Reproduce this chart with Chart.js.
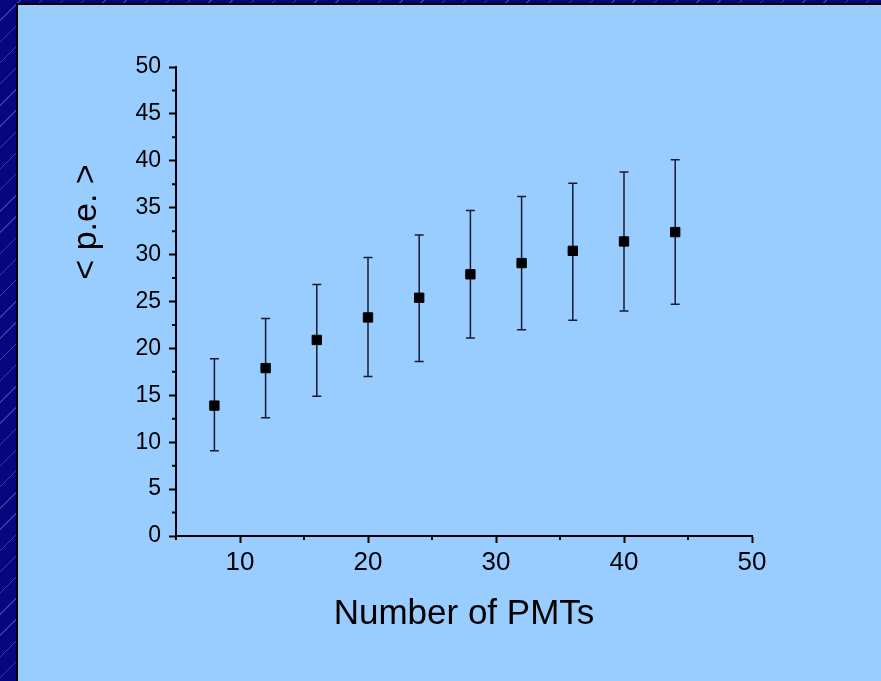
<!DOCTYPE html>
<html>
<head>
<meta charset="utf-8">
<script src="https://cdn.jsdelivr.net/npm/chart.js@4/dist/chart.umd.min.js"></script>
<style>
  html, body { margin: 0; padding: 0; }
  body {
    width: 881px; height: 681px; overflow: hidden; position: relative;
    background-color: #06067f;
    background-image: repeating-linear-gradient(135deg, transparent 0 14px, #3a3aae 14px 15px);
  }
  .panel {
    position: absolute; left: 16px; top: 3px; right: -10px; bottom: -10px;
    background: #99ccff;
    border-left: 2px solid #000; border-top: 2px solid #000;
  }
  #chart { position: absolute; left: 0; top: 0; }
</style>
</head>
<body>
<div class="panel"></div>
<canvas id="chart" width="881" height="681"></canvas>
<script>
/* ─── Data ────────────────────────────────────────────── */
const pmts   = [8, 12, 16, 20, 24, 28, 32, 36, 40, 44];
const meanPe = [13.9, 17.9, 20.9, 23.3, 25.4, 27.9, 29.1, 30.4, 31.4, 32.4];
const peHigh = [18.9, 23.2, 26.8, 29.7, 32.1, 34.7, 36.2, 37.6, 38.8, 40.1];
const peLow  = [9.1, 12.6, 14.9, 17.0, 18.6, 21.1, 22.0, 23.0, 24.0, 24.7];

const xTitle = 'Number of PMTs';
const yTitle = '< p.e. >';

const FONT = "'Liberation Sans', Arial, sans-serif";
const INK = '#000';

/* ─── Error bars (drawn under the markers) ───────────── */
const errorBars = {
  id: 'errorBars',
  beforeDatasetsDraw(chart) {
    const { ctx, scales: { x, y } } = chart;
    ctx.save();
    ctx.strokeStyle = '#1b1b2e';
    ctx.lineWidth = 1.5;
    pmts.forEach((n, i) => {
      const px = x.getPixelForValue(n);
      const top = y.getPixelForValue(peHigh[i]);
      const bot = y.getPixelForValue(peLow[i]);
      ctx.beginPath();
      ctx.moveTo(px, top); ctx.lineTo(px, bot);
      ctx.moveTo(px - 4.5, top); ctx.lineTo(px + 4.5, top);
      ctx.moveTo(px - 4.5, bot); ctx.lineTo(px + 4.5, bot);
      ctx.stroke();
    });
    ctx.restore();
  }
};

/* ─── Minor ticks + rotated y title ──────────────────── */
const axisExtras = {
  id: 'axisExtras',
  afterDraw(chart) {
    const { ctx, scales: { x, y }, chartArea } = chart;
    ctx.save();
    ctx.strokeStyle = INK;
    ctx.lineWidth = 2;
    ctx.beginPath();
    x.ticks.forEach(t => {
      if (t.label !== '') return;
      const px = x.getPixelForValue(t.value);
      ctx.moveTo(px, chartArea.bottom); ctx.lineTo(px, chartArea.bottom + 4);
    });
    y.ticks.forEach(t => {
      if (t.label !== '') return;
      const py = y.getPixelForValue(t.value);
      ctx.moveTo(chartArea.left, py); ctx.lineTo(chartArea.left - 4, py);
    });
    ctx.stroke();

    ctx.fillStyle = INK;
    ctx.font = '34px ' + FONT;
    ctx.textAlign = 'center';
    ctx.textBaseline = 'middle';
    ctx.translate(87, 222);
    ctx.rotate(-Math.PI / 2);
    ctx.fillText(yTitle, 0, 0);
    ctx.restore();
  }
};

const majorOnly = (step) => (v) => (Math.abs(v % step) < 1e-6 ? String(v) : '');

new Chart(document.getElementById('chart'), {
  type: 'scatter',
  data: {
    datasets: [{
      data: pmts.map((n, i) => ({ x: n, y: meanPe[i] })),
      pointStyle: 'rect',
      pointRadius: 6.6,
      pointHoverRadius: 6.6,
      backgroundColor: '#000',
      borderColor: '#000',
      borderWidth: 1,
    }]
  },
  options: {
    responsive: false,
    animation: false,
    layout: { padding: { left: 0, top: 67, right: 129, bottom: 0 } },
    plugins: { legend: { display: false }, tooltip: { enabled: false } },
    scales: {
      x: {
        type: 'linear', min: 5, max: 50,
        afterFit: s => { s.height = 145; },
        border: { color: INK, width: 2 },
        grid: {
          drawOnChartArea: false, tickLength: 7, tickWidth: 2,
          tickColor: c => (c.tick && c.tick.label !== '' ? INK : 'transparent'),
        },
        ticks: {
          stepSize: 5, autoSkip: false, maxRotation: 0, padding: 4,
          color: INK, font: { family: FONT, size: 26 },
          callback: majorOnly(10),
        },
        title: {
          display: true, text: xTitle, color: INK,
          font: { family: FONT, size: 35 },
          padding: { top: 0, bottom: 46 },
        },
      },
      y: {
        type: 'linear', min: 0, max: 50,
        afterFit: s => { s.width = 176; },
        border: { color: INK, width: 2 },
        grid: {
          drawOnChartArea: false, tickLength: 7, tickWidth: 2,
          tickColor: c => (c.tick && c.tick.label !== '' ? INK : 'transparent'),
        },
        ticks: {
          stepSize: 2.5, autoSkip: false, padding: 8,
          color: INK, font: { family: FONT, size: 23 },
          callback: majorOnly(5),
        },
      },
    },
  },
  plugins: [errorBars, axisExtras],
});
</script>
</body>
</html>
